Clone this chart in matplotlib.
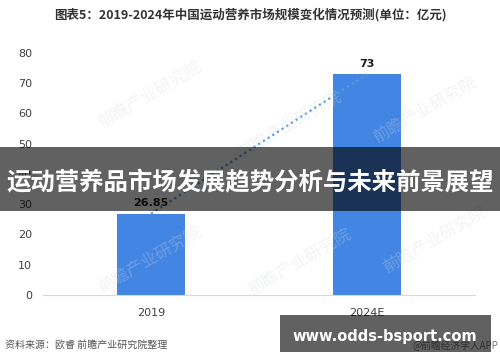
import matplotlib
matplotlib.use("Agg")
import matplotlib.pyplot as plt
from matplotlib.patches import Rectangle

plt.rcParams['font.family'] = ['Noto Sans CJK SC', 'DejaVu Sans']

# Data
categories = ['2019', '2024E']
values = [26.85, 73]
value_labels = ['26.85', '73']
yticks = [0, 10, 20, 30, 40, 50, 60, 70, 80]

title = '图表5：2019-2024年中国运动营养市场规模变化情况预测(单位：亿元)'
banner_text = '运动营养品市场发展趋势分析与未来前景展望'
source_text = '资料来源：欧睿 前瞻产业研究院整理'
site_text = 'www.odds-bsport.com'
app_text = '@前瞻经济学人APP'

W, H = 500, 362
fig = plt.figure(figsize=(W / 100, H / 100), dpi=100)
fig.patch.set_facecolor('white')

ax = fig.add_axes([43 / W, 1 - 295 / H, 432 / W, 242 / H])
ax.set_facecolor('none')
x = list(range(len(categories)))
ax.bar(x, values, width=0.315, color='#4285E3', zorder=2)
ax.plot(x, values, linestyle=(0, (1, 1.5)), color='#5B9BD5', linewidth=1.6, zorder=3)
for xi, v, lab in zip(x, values, value_labels):
    ax.annotate(lab, (xi, v), xytext=(0, 4), textcoords='offset points',
                ha='center', va='bottom', fontsize=8, fontweight='bold',
                color='#1a1a1a', family=['DejaVu Sans'], zorder=4)

ax.set_xlim(-0.5, 1.5)
ax.set_ylim(0, 80)
ax.set_yticks(yticks)
ax.set_xticks(x)
ax.set_xticklabels(categories)
ax.tick_params(axis='both', length=0, labelsize=8, colors='#404040')
ax.tick_params(axis='y', pad=8)
ax.tick_params(axis='x', pad=9)
for s in ['top', 'right', 'left']:
    ax.spines[s].set_visible(False)
ax.spines['bottom'].set_color('#d9d9d9')
ax.spines['bottom'].set_linewidth(0.8)
for lbl in ax.get_xticklabels() + ax.get_yticklabels():
    lbl.set_family(['DejaVu Sans'])

# Title
fig.text(250 / W, 1 - 15 / H, title, ha='center', va='center', fontsize=9,
         fontweight='bold', color='#333333')

# Watermarks (faint)
wm = [(150, 95), (425, 110), (290, 125), (150, 260), (300, 262), (435, 240)]
for (wx, wy) in wm:
    fig.text(wx / W, 1 - wy / H, '前瞻产业研究院', ha='center', va='center',
             fontsize=12, color='#d5d8dc', alpha=0.3, rotation=30, zorder=0)

# Source text
fig.text(5 / W, 1 - 345 / H, source_text, ha='left', va='center', fontsize=7.2,
         color='#555555')
fig.text(498 / W, 1 - 346 / H, app_text, ha='right', va='center', fontsize=7,
         color='#777777')

# Middle banner overlay
fig.patches.append(Rectangle((0, 1 - 211 / H), 1, 64 / H, transform=fig.transFigure,
                             facecolor='black', alpha=0.62, zorder=10, edgecolor='none'))
fig.text(250 / W, 1 - 183 / H, banner_text, ha='center', va='center', fontsize=17.6,
         fontweight='bold', color='white', zorder=11)

# Bottom-right banner
fig.patches.append(Rectangle((280 / W, 1 - 352 / H), 211 / W, 37 / H, transform=fig.transFigure,
                             facecolor='black', alpha=0.62, zorder=10, edgecolor='none'))
fig.text(385 / W, 1 - 336 / H, site_text, ha='center', va='center', fontsize=10.5,
         fontweight='bold', color='white', family=['DejaVu Sans'], zorder=11)

fig.savefig('out.png', dpi=100, facecolor='white')
